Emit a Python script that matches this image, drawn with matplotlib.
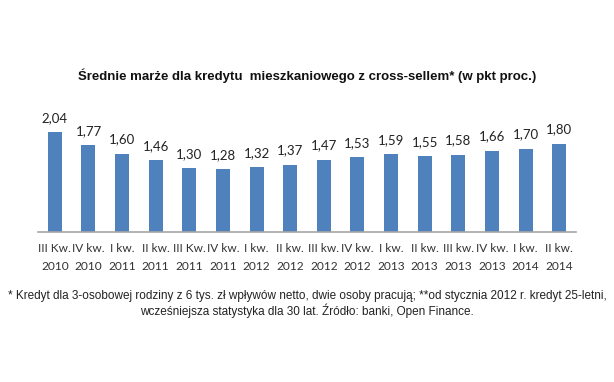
import matplotlib
matplotlib.use("Agg")
import matplotlib.pyplot as plt

categories = ["III Kw.\n2010", "IV kw.\n2010", "I kw.\n2011", "II kw.\n2011", "III Kw.\n2011",
              "IV kw.\n2011", "I kw.\n2012", "II kw.\n2012", "III kw.\n2012", "IV kw.\n2012",
              "I kw.\n2013", "II kw.\n2013", "III kw.\n2013", "IV kw.\n2013", "I kw.\n2014", "II kw.\n2014"]
values = [2.04, 1.77, 1.60, 1.46, 1.30, 1.28, 1.32, 1.37, 1.47, 1.53, 1.59, 1.55, 1.58, 1.66, 1.70, 1.80]

plt.rcParams['font.family'] = ['Liberation Sans', 'DejaVu Sans']
W, H = 614, 382
fig = plt.figure(figsize=(W/100, H/100), dpi=100)
left, right = 38, 576
bottom, top = 232, 110
ax = fig.add_axes([left/W, 1-bottom/H, (right-left)/W, (bottom-top)/H])
n = len(values)
x = list(range(n))
ax.bar(x, values, width=0.42, color="#4F81BD")
ax.set_xlim(-0.5, n-0.5)
ax.set_ylim(0, (bottom-top)/49.0)
for xi, v in zip(x, values):
    ax.text(xi, v + 0.17, f"{v:.2f}".replace(".", ","), ha="center", va="bottom",
            fontsize=9.5, color="#222222", family=["Lato", "DejaVu Sans"])
ax.set_xticks(x)
ax.set_xticklabels(categories, fontsize=8.6, color="#333333", linespacing=1.75,
                   family=["Lato", "DejaVu Sans"])
ax.tick_params(axis="x", length=0, pad=8)
ax.set_yticks([])
for s in ["top", "right", "left"]:
    ax.spines[s].set_visible(False)
ax.spines["bottom"].set_color("#A6A6A6")
ax.spines["bottom"].set_linewidth(1.2)

fig.text(307/W, 1-76/H, "Średnie marże dla kredytu  mieszkaniowego z cross-sellem* (w pkt proc.)",
         ha="center", va="center", fontsize=9.5, fontweight="bold", color="#111111")
fig.text(307/W, 1-304/H,
         "* Kredyt dla 3-osobowej rodziny z 6 tys. zł wpływów netto, dwie osoby pracują; **od stycznia 2012 r. kredyt 25-letni,\nwcześniejsza statystyka dla 30 lat. Źródło: banki, Open Finance.",
         ha="center", va="center", fontsize=8.5, color="#222222", linespacing=1.2)
fig.savefig("out.png", dpi=100)
